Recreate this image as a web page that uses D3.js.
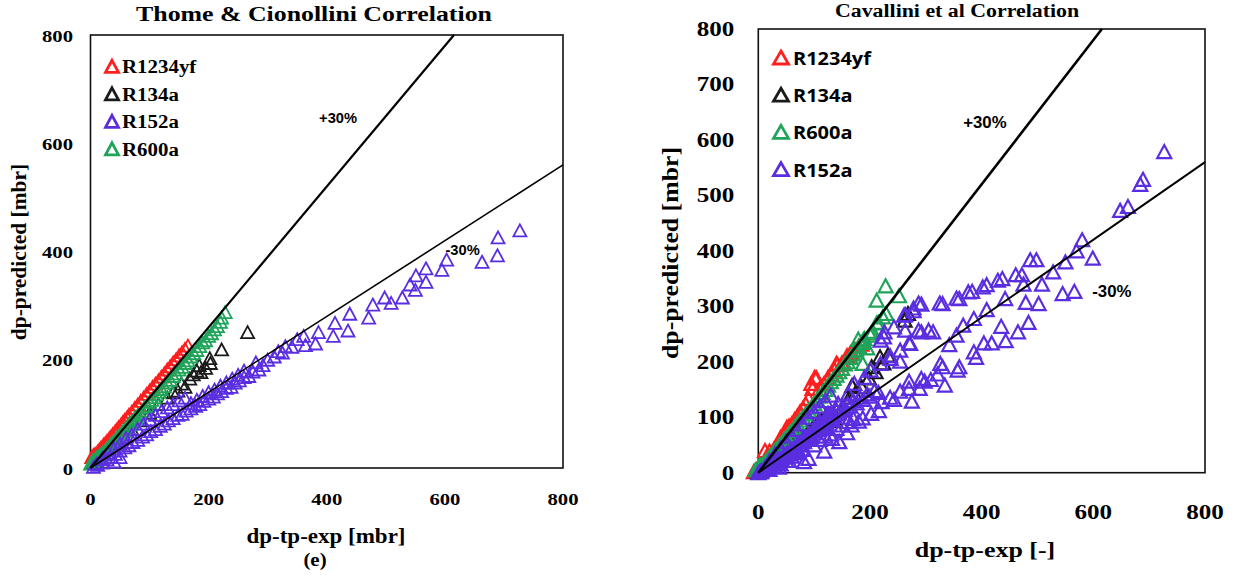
<!DOCTYPE html>
<html>
<head>
<meta charset="utf-8">
<script src="https://cdn.jsdelivr.net/npm/d3@7"></script>
<style>
  body { margin: 0; background: #fff; }
  svg text { font-family: "Liberation Serif", "Times New Roman", serif; font-weight: bold; fill: #000; }
  svg text.sans { font-family: "Liberation Sans", Arial, sans-serif; }
  svg text.osans { font-family: "Open Sans", "Liberation Sans", sans-serif; }
</style>
</head>
<body>
<svg id="fig" width="1233" height="575"></svg>
<script>
// 刻度
const xTicks = [0, 200, 400, 600, 800];
const yTicksLeft = [0, 200, 400, 600, 800];
const yTicksRight = [0, 100, 200, 300, 400, 500, 600, 700, 800];

// ±30% 誤差線
const bandSlopes = [1.3, 0.7];
const bandLabels = ["+30%", "-30%"];

// Thome & Cionollini（左圖）[exp, predicted]
const thomeR1234yf = [[2,20],[5,24],[8,26],[12,30],[15,34],[18,38],[22,43],[25,46],[28,50],[32,55],[35,59],[38,63],[42,68],[45,72],[48,76],[52,81],[55,85],[58,89],[62,94],[65,98],[70,104],[75,111],[80,117],[85,124],[90,130],[95,137],[100,143],[105,150],[110,156],[115,162],[120,169],[125,175],[130,182],[135,188],[140,195],[145,201],[150,208],[155,214],[160,220],[165,226]];
const thomeR134a = [[5,10],[10,15],[20,25],[30,35],[40,45],[55,58],[70,72],[85,88],[100,102],[115,118],[130,130],[140,140],[148,143],[154,156],[160,150],[168,165],[174,173],[180,180],[184,190],[187,177],[195,185],[202,203],[203,194],[222,219],[266,251]];
const thomeR600a = [[0,8],[3,12],[5,16],[8,14],[10,20],[12,18],[15,23],[18,25],[20,28],[22,26],[25,32],[28,35],[30,38],[33,40],[35,45],[38,46],[40,50],[43,52],[45,56],[48,57],[50,62],[53,64],[55,68],[58,69],[60,74],[63,76],[65,80],[68,81],[70,86],[73,88],[75,92],[78,93],[80,98],[84,101],[88,106],[92,112],[96,115],[100,122],[104,126],[108,131],[112,136],[116,141],[120,146],[125,151],[130,158],[135,163],[140,170],[145,175],[150,182],[155,187],[160,194],[165,199],[170,206],[175,212],[180,218],[185,225],[190,232],[195,236],[200,244],[205,249],[210,256],[215,262],[220,270],[222,278],[228,288]];
const thomeR152a = [[727,439],[690,426],[689,393],[663,381],[603,385],[595,366],[568,369],[568,344],[551,356],[550,329],[541,339],[528,315],[509,305],[498,315],[478,302],[471,278],[439,285],[436,254],[414,268],[411,244],[386,251],[381,230],[364,227],[361,244],[341,224],[350,238],[330,225],[325,213],[318,216],[311,206],[300,200],[292,190],[285,182],[280,195],[275,178],[268,170],[260,180],[260,168],[252,162],[250,172],[245,158],[240,165],[238,150],[230,158],[230,148],[222,142],[220,152],[215,138],[210,145],[208,132],[200,140],[200,128],[192,124],[190,133],[185,118],[180,126],[178,115],[170,120],[170,110],[162,106],[160,130],[155,100],[150,125],[148,98],[140,118],[140,92],[132,88],[130,112],[125,82],[120,105],[118,78],[110,98],[110,72],[102,68],[100,90],[95,62],[90,82],[88,58],[80,72],[80,52],[72,48],[70,62],[65,42],[60,55],[58,38],[50,45],[50,32],[50,20],[42,26],[40,36],[40,12],[35,20],[30,28],[28,16],[20,18],[20,10],[12,6],[10,8],[5,2]];

// Cavallini et al（右圖）[exp, predicted]
const cavalliniR1234yf = [[-8,2],[-3,5],[0,3],[3,8],[6,14],[10,18],[12,40],[14,24],[18,30],[20,39],[24,36],[28,42],[32,48],[36,54],[40,64],[44,64],[48,72],[51,82],[55,84],[60,88],[65,96],[70,102],[75,110],[80,116],[85,124],[90,134],[95,161],[97,152],[101,172],[104,171],[110,152],[118,161],[125,172],[130,178],[136,186],[140,197],[142,195],[150,198],[159,211],[165,216],[172,222],[180,228],[185,232]];
const cavalliniR134a = [[0,2],[5,6],[10,10],[15,14],[22,20],[30,26],[38,32],[46,38],[55,45],[64,52],[72,60],[80,66],[90,75],[98,82],[106,90],[114,96],[121,82],[122,104],[131,99],[138,94],[140,112],[152,118],[160,130],[165,136],[168,157],[173,142],[185,155],[198,171],[203,191],[210,182],[218,209],[224,198],[232,212],[262,275],[268,287]];
const cavalliniR600a = [[-5,5],[0,10],[3,14],[6,12],[10,18],[14,22],[18,26],[22,30],[26,35],[30,40],[34,44],[38,50],[42,54],[46,60],[50,64],[55,70],[60,76],[65,82],[70,88],[75,95],[80,100],[85,106],[90,112],[95,118],[100,125],[105,132],[110,138],[115,145],[120,150],[125,158],[130,164],[135,170],[140,176],[145,182],[150,188],[155,196],[160,200],[165,208],[170,214],[173,221],[175,222],[179,241],[180,228],[186,235],[187,197],[188,239],[190,242],[195,225],[201,248],[203,252],[205,255],[212,270],[215,271],[223,281],[229,287],[212,311],[252,319],[228,337]];
const cavalliniR152a = [[727,579],[689,529],[684,520],[662,480],[648,473],[580,420],[570,400],[599,387],[550,380],[528,362],[498,384],[508,340],[472,357],[475,340],[479,307],[502,305],[566,327],[545,323],[442,314],[437,350],[409,339],[383,327],[360,314],[330,305],[409,294],[386,278],[367,266],[355,248],[342,231],[292,304],[278,292],[263,285],[313,254],[292,254],[270,234],[254,221],[254,201],[236,211],[219,239],[226,254],[484,271],[465,254],[443,238],[435,264],[418,234],[404,234],[390,208],[386,218],[360,191],[357,185],[330,191],[326,197],[321,178],[334,158],[309,168],[298,165],[292,170],[289,152],[270,152],[275,129],[270,165],[254,147],[243,132],[236,136],[221,128],[216,112],[202,107],[187,99],[180,93],[167,86],[159,72],[145,56],[132,62],[118,39],[90,26],[82,20],[225,245],[243,263],[261,284],[278,297],[287,306],[263,257],[287,257],[305,257],[272,233],[237,206],[219,197],[201,185],[190,172],[172,161],[161,143],[143,125],[125,107],[108,89],[90,64],[72,40],[55,22],[37,10],[20,6],[5,2],[325,306],[355,315],[376,326],[402,335],[429,347],[461,357],[487,384],[0,0],[3,2],[6,4],[10,6],[12,10],[15,8],[18,12],[22,14],[25,18],[28,16],[32,22],[35,20],[38,26],[42,24],[45,30],[48,28],[52,36],[55,34],[58,40],[62,38],[65,46],[68,44],[72,52],[75,50],[78,58],[82,56],[85,64],[88,60],[92,70],[95,66],[98,76],[102,72],[105,82],[108,78],[112,88],[115,84],[118,94],[122,90],[125,100],[128,96],[132,106],[136,102],[140,112],[145,108],[150,118],[155,114],[160,124],[165,120],[170,130],[176,126],[182,136],[188,132],[195,142],[200,138],[208,148],[215,145],[100,110],[110,120],[120,130],[130,140],[90,100],[80,88],[70,78],[60,66],[50,56],[40,44],[30,34],[20,22],[60,30],[70,36],[80,42],[100,50],[110,60],[120,66],[130,70],[140,80],[150,86],[160,92],[170,98],[50,22],[40,16],[30,12]];

const colors = { R1234yf: "#ff1f1f", R134a: "#1a1a1a", R152a: "#5a2ee0", R600a: "#1fa45a" };

const svg = d3.select("#fig");

function tri(w, h) {
  return `M0,${-h / 2}L${w / 2},${h / 2}L${-w / 2},${h / 2}Z`;
}

// 文字水平拉伸（原圖被橫向拉寬）
function stext(g, txt, x, y, size, sx, anchor, cls, rot) {
  return g.append("text")
    .attr("transform", `translate(${x},${y})` + (rot ? ` rotate(${rot})` : "") + ` scale(${sx},1)`)
    .attr("text-anchor", anchor)
    .attr("class", cls || null)
    .style("font-size", size + "px")
    .text(txt);
}

function drawChart(c) {
  const g = svg.append("g");
  const x = d3.scaleLinear().domain([0, 800]).range([c.left, c.right]);
  const y = d3.scaleLinear().domain([0, 800]).range([c.bottom, c.top]);

  g.append("rect")
    .attr("x", c.left).attr("y", c.top)
    .attr("width", c.right - c.left).attr("height", c.bottom - c.top)
    .attr("fill", "none").attr("stroke", "#111").attr("stroke-width", 1.6);

  // 刻度標籤
  c.yTicks.forEach(v => stext(g, v, c.left - c.yGap, y(v) + c.yDy, c.tickSize, c.tickSx, "end"));
  xTicks.forEach(v => stext(g, v, x(v), c.bottom + c.xGap, c.tickSize, c.tickSx, "middle"));

  // 資料點
  c.series.forEach(s => {
    g.append("g").selectAll("path").data(s.data).join("path")
      .attr("d", tri(c.mw, c.mh))
      .attr("transform", d => `translate(${x(d[0])},${y(d[1])})`)
      .attr("fill", "none")
      .attr("stroke", colors[s.name])
      .attr("stroke-width", c.msw);
  });

  // ±30% 線
  bandSlopes.forEach((k, i) => {
    const xe = Math.min(800, 800 / k);
    g.append("line")
      .attr("x1", x(0)).attr("y1", y(0))
      .attr("x2", x(xe)).attr("y2", y(k * xe))
      .attr("stroke", "#000").attr("stroke-width", c.lineW[i]);
  });
  c.ann.forEach((a, i) => stext(g, bandLabels[i], x(a[0]), y(a[1]), c.annSize, 1.05, "start", "sans"));

  // 圖例
  c.legend.forEach((name, i) => {
    const by = c.legY + i * c.legStep;
    g.append("path").attr("d", tri(c.lw, c.lh))
      .attr("transform", `translate(${c.legX},${by - c.lh / 2 - 1})`)
      .attr("fill", "none").attr("stroke", colors[name]).attr("stroke-width", 2.8);
    stext(g, name, c.legX + c.legTx, by, c.legSize, c.legSx, "start", c.legCls);
  });

  stext(g, c.title, c.titleX, c.titleY, c.titleSize, c.titleSx, "middle");
  stext(g, c.xLabel, c.xLabX, c.xLabY, c.xLabSize, c.xLabSx, "middle");
  stext(g, "dp-predicted [mbr]", c.yLabX, c.yLabY, c.yLabSize, c.yLabSx, "middle", null, -90);
  if (c.sub) stext(g, c.sub, c.subX, c.subY, 19, 1.1, "middle");
}

drawChart({
  left: 90.5, right: 563, top: 35, bottom: 468,
  yTicks: yTicksLeft, yGap: 17.5, yDy: 6.5, xGap: 37, tickSize: 17.5, tickSx: 1.18,
  mw: 13, mh: 12, msw: 1.8, lineW: [2.2, 1.6],
  series: [
    { name: "R1234yf", data: thomeR1234yf },
    { name: "R134a", data: thomeR134a },
    { name: "R600a", data: thomeR600a },
    { name: "R152a", data: thomeR152a }
  ],
  ann: [[387, 637], [601, 394]], annSize: 14,
  legend: ["R1234yf", "R134a", "R152a", "R600a"],
  legX: 112, legTx: 10, legY: 73.3, legStep: 27.5, lw: 13, lh: 12, legSize: 19, legSx: 1.1, legCls: null,
  title: "Thome & Cionollini Correlation", titleX: 314, titleY: 21, titleSize: 21, titleSx: 1.23,
  xLabel: "dp-tp-exp [mbr]", xLabX: 326, xLabY: 543, xLabSize: 20, xLabSx: 1.15,
  yLabX: 26, yLabY: 252, yLabSize: 21, yLabSx: 1.02,
  sub: "(e)", subX: 315, subY: 566
});

drawChart({
  left: 758.3, right: 1205, top: 29, bottom: 472.7,
  yTicks: yTicksRight, yGap: 24, yDy: 7, xGap: 46, tickSize: 22, tickSx: 1.14,
  mw: 14, mh: 13, msw: 2.2, lineW: [2.6, 2],
  series: [
    { name: "R1234yf", data: cavalliniR1234yf },
    { name: "R134a", data: cavalliniR134a },
    { name: "R600a", data: cavalliniR600a },
    { name: "R152a", data: cavalliniR152a }
  ],
  ann: [[367, 621], [598, 317]], annSize: 16,
  legend: ["R1234yf", "R134a", "R600a", "R152a"],
  legX: 781, legTx: 12, legY: 65, legStep: 37.2, lw: 15, lh: 13, legSize: 18.5, legSx: 1.08, legCls: "osans",
  title: "Cavallini et al Correlation", titleX: 957, titleY: 17, titleSize: 19, titleSx: 1.15,
  xLabel: "dp-tp-exp [-]", xLabX: 985, xLabY: 557, xLabSize: 22, xLabSx: 1.18,
  yLabX: 678, yLabY: 253, yLabSize: 23, yLabSx: 1.12
});
</script>
</body>
</html>
